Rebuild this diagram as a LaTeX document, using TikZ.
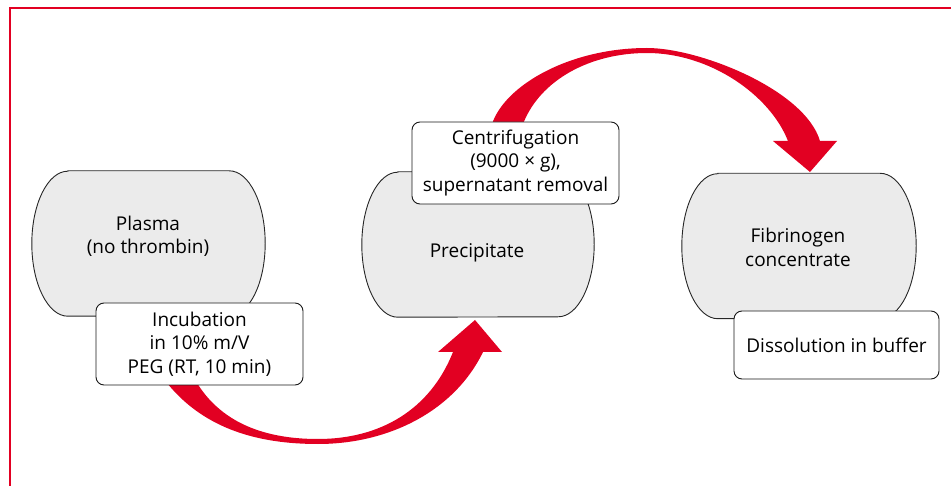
\documentclass[tikz,border=0pt]{standalone}
\usepackage{fontspec}
\setmainfont{Open Sans}
\definecolor{arrred}{RGB}{226,0,34}
\definecolor{lozgray}{RGB}{235,235,235}
\tikzset{
  lozbox/.style={draw=none,minimum width=#1,minimum height=145pt,inner sep=0pt},
  lozline/.style={fill=lozgray,draw=black!85,line width=0.9pt},
  lozlabel/.style={align=center,inner sep=0pt,font=\fontsize{19}{23.3}\selectfont},
  stepbox/.style={draw=black!90,line width=0.9pt,fill=white,rounded corners=8pt,
     align=center,inner sep=0pt,font=\fontsize{19}{23.3}\selectfont},
  bigarrow/.style={fill=arrred,draw=none},
  framer/.style={draw=arrred,line width=1.4pt}
}
\newcommand\lozshape[2]{% node name, half height
  \path[lozline] ([xshift=36pt]#1.north west) -- ([xshift=-36pt]#1.north east)
    arc[start angle=90,end angle=-90,x radius=36pt,y radius=#2]
    -- ([xshift=36pt]#1.south west)
    arc[start angle=270,end angle=90,x radius=36pt,y radius=#2] -- cycle;}
\begin{document}
\begin{tikzpicture}[x=1pt,y=-1pt]
\useasboundingbox (0,0) rectangle (951,486);
% frame
\draw[framer] (10,486) -- (10,8) -- (951,8);
% lozenges
\node[lozbox=233pt] (plasma) at (148.5,243.5) {};
\lozshape{plasma}{72.5pt}
\node[lozlabel] (plasmaT) at (148,236) {Plasma\\(no thrombin)};
\node[lozbox=232pt] (precip) at (478,244.5) {};
\lozshape{precip}{72.5pt}
\node[lozlabel] (precipT) at (477,253) {Precipitate};
\node[lozbox=234pt] (fibr) at (799,246) {};
\lozshape{fibr}{72.5pt}
\node[lozlabel] (fibrT) at (798,247.5) {Fibrinogen\\concentrate};
% arrows
\fill[bigarrow] (167,383) .. controls (205,430) and (260,444) .. (318,444)
  .. controls (390,444) and (455,410) .. (483,352) -- (502,352) -- (475,320)
  -- (438,352) -- (453,352) .. controls (430,410) and (380,439) .. (318,439)
  .. controls (260,439) and (220,420) .. (197,383) -- cycle;
\fill[bigarrow] (492,124) .. controls (505,85) and (570,48) .. (647,48)
  .. controls (700,48) and (805,90) .. (820,141) -- (837,141) -- (810,172)
  -- (773,141) -- (788,141) .. controls (770,95) and (710,53) .. (647,53)
  .. controls (590,53) and (540,80) .. (523,124) -- cycle;
% step boxes
\node[stepbox,minimum width=207pt,minimum height=82pt] (incub) at (199.5,344)
  {Incubation\\in 10\% m/V\\PEG (RT, 10 min)};
\node[stepbox,minimum width=207pt,minimum height=82pt] (centr) at (515.5,163)
  {Centrifugation\\(9000 × g),\\supernatant removal};
\node[stepbox,minimum width=205pt,minimum height=68pt] (dissol) at (836.5,345)
  {Dissolution in buffer};
\end{tikzpicture}
\end{document}
